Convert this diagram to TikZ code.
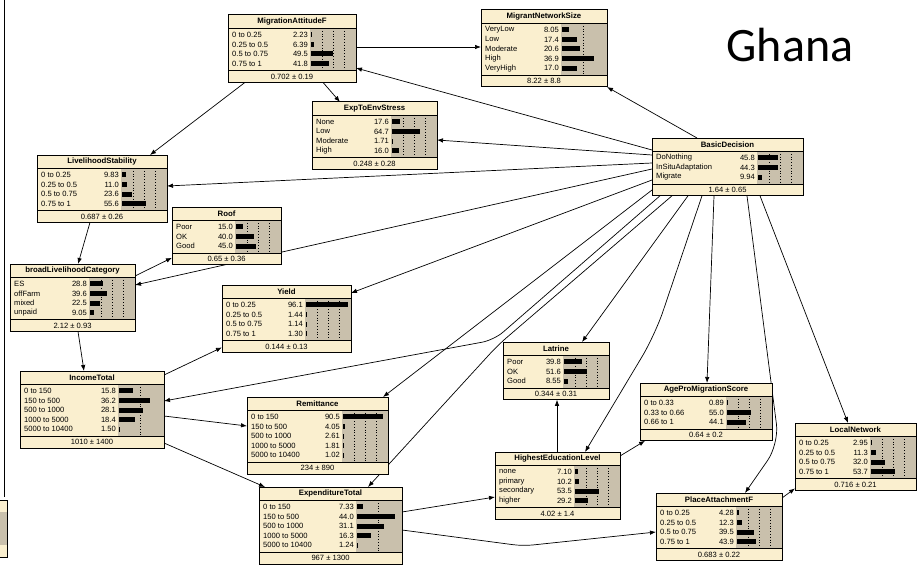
\documentclass[tikz,border=0pt]{standalone}
\usepackage{fontspec}
\setmainfont{Liberation Sans}
\newfontfamily\ghanafont{Carlito}
\usetikzlibrary{calc,arrows.meta}
\definecolor{nbeige}{RGB}{250,239,207}
\definecolor{nbar}{RGB}{201,192,172}
\pgfdeclarelayer{bg}
\pgfsetlayers{bg,main}

% netica box: name, x, y, width, title, rows, footer, bar scale
\newcommand{\bnnode}[8]{%
  \foreach \bnitem [count=\k] in {#6}{\xdef\bnrows{\k}}%
  \pgfmathsetlengthmacro\bnh{29pt+9.6pt*\bnrows}%
  \node[fill=nbeige, inner sep=0pt, outer sep=0pt, minimum width=#4pt,
        minimum height=\bnh, anchor=north west] (#1) at (#2,#3) {};
  \fill[nbar] ($(#1.north east)+(-46,13)$) rectangle ($(#1.south east)+(0,-12)$);
  \foreach \p in {25,50,75}{%
    \pgfmathtruncatemacro\bnok{#8*\p<40}%
    \ifnum\bnok=1
      \draw[dotted, line width=0.8pt] ($(#1.north east)+(-45+#8*\p,13)$) -- ($(#1.south east)+(-45+#8*\p,-12)$);
    \fi}
  \node[bntitle] at ($(#1.north)+(0,6.5)$) {#5};
  \foreach \lab/\val [count=\k] in {#6}{
    \node[bntext, anchor=west] at ($(#1.north west)+(4,10.2+9.6*\k)$) {\lab};
    \node[bntext, anchor=east] at ($(#1.north east)+(-48,10.2+9.6*\k)$) {\val};
    \fill ($(#1.north east)+(-45,7.7+9.6*\k)$) rectangle ++(#8*\val,5);
  }
  \node[bntext] at ($(#1.south)+(0,-6)$) {#7};
  \draw ($(#1.north west)+(0,13)$) -- ($(#1.north east)+(0,13)$);
  \draw ($(#1.south west)+(0,-12)$) -- ($(#1.south east)+(0,-12)$);
  \draw[line width=1pt] (#1.north west) rectangle (#1.south east);
}

\begin{document}
\begin{tikzpicture}[x=1pt, y=-1pt, >={Latex[length=6pt,width=4.5pt]},
  link/.style={->, line width=0.7pt},
  bntext/.style={inner sep=0pt, font=\fontsize{7.6}{8}\selectfont},
  bntitle/.style={inner sep=0pt, font=\bfseries\fontsize{7.8}{8}\selectfont}]
\useasboundingbox (0,0) rectangle (923,567);

\draw[line width=1pt] (4,0) -- (4,497);
\fill[nbeige] (-20,500) rectangle (7,557);
\fill[nbar] (-20,512) rectangle (7,545);
\draw[line width=1pt] (-20,500) -- (7,500) -- (7,557) -- (-20,557);

\node[font=\ghanafont\fontsize{48}{50}\selectfont] (ghana) at (790,45) {Ghana};

\bnnode{migatt}{228}{15}{128}{MigrationAttitudeF}{0 to 0.25/2.23, 0.25 to 0.5/6.39, 0.5 to 0.75/49.5, 0.75 to 1/41.8}{0.702 ± 0.19}{0.44}
\bnnode{netsize}{481}{10}{126}{MigrantNetworkSize}{VeryLow/8.05, Low/17.4, Moderate/20.6, High/36.9, VeryHigh/17.0}{8.22 ± 8.8}{0.86}
\bnnode{envstress}{312}{102}{125}{ExpToEnvStress}{None/17.6, Low/64.7, Moderate/1.71, High/16.0}{0.248 ± 0.28}{0.44}
\bnnode{decision}{652}{138}{151}{BasicDecision}{DoNothing/45.8, InSituAdaptation/44.3, Migrate/9.94}{1.64 ± 0.65}{0.44}
\bnnode{lstab}{37}{155}{130}{LivelihoodStability}{0 to 0.25/9.83, 0.25 to 0.5/11.0, 0.5 to 0.75/23.6, 0.75 to 1/55.6}{0.687 ± 0.26}{0.44}
\bnnode{roof}{172}{207}{109}{Roof}{Poor/15.0, OK/40.0, Good/45.0}{0.65 ± 0.36}{0.44}
\bnnode{blcat}{10}{264}{125}{broadLivelihoodCategory}{ES/28.8, offFarm/39.6, mixed/22.5, unpaid/9.05}{2.12 ± 0.93}{0.44}
\bnnode{yield}{222}{285}{129}{Yield}{0 to 0.25/96.1, 0.25 to 0.5/1.44, 0.5 to 0.75/1.14, 0.75 to 1/1.30}{0.144 ± 0.13}{0.44}
\bnnode{income}{20}{371}{144}{IncomeTotal}{0 to 150/15.8, 150 to 500/36.2, 500 to 1000/28.1, 1000 to 5000/18.4, 5000 to 10400/1.50}{1010 ± 1400}{0.86}
\bnnode{remit}{247}{397}{141}{Remittance}{0 to 150/90.5, 150 to 500/4.05, 500 to 1000/2.61, 1000 to 5000/1.81, 5000 to 10400/1.02}{234 ± 890}{0.44}
\bnnode{latrine}{503}{342}{106}{Latrine}{Poor/39.8, OK/51.6, Good/8.55}{0.344 ± 0.31}{0.44}
\bnnode{agepro}{640}{383}{132}{AgeProMigrationScore}{0 to 0.33/0.89, 0.33 to 0.66/55.0, 0.66 to 1/44.1}{0.64 ± 0.2}{0.44}
\bnnode{localnet}{795}{423}{121}{LocalNetwork}{0 to 0.25/2.95, 0.25 to 0.5/11.3, 0.5 to 0.75/32.0, 0.75 to 1/53.7}{0.716 ± 0.21}{0.44}
\bnnode{educ}{495}{452}{125}{HighestEducationLevel}{none/7.10, primary/10.2, secondary/53.5, higher/29.2}{4.02 ± 1.4}{0.44}
\bnnode{placeatt}{656}{493}{126}{PlaceAttachmentF}{0 to 0.25/4.28, 0.25 to 0.5/12.3, 0.5 to 0.75/39.5, 0.75 to 1/43.9}{0.683 ± 0.22}{0.44}
\bnnode{expend}{259}{487}{143}{ExpenditureTotal}{0 to 150/7.33, 150 to 500/44.0, 500 to 1000/31.1, 1000 to 5000/16.3, 5000 to 10400/1.24}{967 ± 1300}{0.86}

\coordinate (bendinc) at (494,340);
\coordinate (bendexp) at (498,345);
\coordinate (bendedu) at (655,335);
\coordinate (bendpla) at (779,444);
\coordinate (bendexpla) at (523,546);

\begin{pgfonlayer}{bg}
\draw[link] ($(migatt.north east)+(0,32)$) -- ($(netsize.north west)+(0,37)$);
\draw[link] ($(migatt.south west)+(17,0)$) -- ($(lstab.north east)+(-17,0)$);
\draw[link] ($(migatt.south west)+(95,0)$) -- ($(envstress.north west)+(28,0)$);

\draw[link] ($(decision.north west)+(45,0)$) -- (netsize.south east);
\draw[link] ($(decision.north west)+(0,12)$) -- ($(migatt.north east)+(0,53)$);
\draw[link] ($(decision.north west)+(0,17)$) -- ($(envstress.north east)+(0,38)$);
\draw[link] ($(decision.north west)+(0,25)$) -- ($(lstab.north east)+(0,31)$);
\draw[link] ($(decision.north west)+(0,31)$) -- ($(blcat.north east)+(0,21)$);
\draw[link] ($(decision.north west)+(0,42)$) -- ($(yield.north east)+(0,8)$);
\draw[link] ($(decision.north west)+(0,52)$) -- ($(remit.north east)+(-5,0)$);
\draw[link, rounded corners=12pt] ($(decision.south west)+(8,0)$) -- (bendinc) -- ($(income.north east)+(0,30)$);
\draw[link, rounded corners=12pt] ($(decision.south west)+(20,0)$) -- (bendexp) -- ($(expend.north west)+(109,0)$);
\draw[link] ($(decision.south west)+(36,0)$) -- ($(latrine.north west)+(79,0)$);
\draw[link, rounded corners=25pt] ($(decision.south west)+(50,0)$) -- (bendedu) -- ($(educ.north west)+(90,0)$);
\draw[link] ($(decision.south west)+(62,0)$) -- ($(agepro.north west)+(67,0)$);
\draw[link, rounded corners=20pt] ($(decision.south west)+(95,0)$) -- (bendpla) -- ($(placeatt.north west)+(89,0)$);
\draw[link] ($(decision.south west)+(108,0)$) -- ($(localnet.north west)+(53,0)$);

\draw[link] ($(lstab.south west)+(53,0)$) -- ($(blcat.north west)+(68,0)$);
\draw[link] ($(blcat.north east)+(0,12)$) -- ($(roof.south west)+(0,-7)$);
\draw[link] ($(blcat.south west)+(68,0)$) -- ($(income.north west)+(64,0)$);
\draw[link] ($(income.north east)+(0,4)$) -- ($(yield.south west)+(0,-5)$);
\draw[link] ($(income.north east)+(0,45)$) -- ($(remit.north west)+(0,29)$);
\draw[link] ($(income.north east)+(0,72)$) -- ($(expend.north west)+(6,0)$);

\draw[link] ($(expend.north east)+(0,25)$) -- ($(educ.north west)+(0,45)$);
\draw[link, rounded corners=10pt] ($(expend.north east)+(0,43)$) -- (bendexpla) -- ($(placeatt.north west)+(0,39)$);
\draw[link] ($(educ.north west)+(62,0)$) -- ($(latrine.south west)+(54,0)$);
\draw[link] ($(educ.north east)+(0,4)$) -- ($(agepro.south west)+(5,0)$);
\draw[link] ($(placeatt.north east)+(0,5)$) -- ($(localnet.south west)+(0,-2)$);
\end{pgfonlayer}
\end{tikzpicture}
\end{document}
